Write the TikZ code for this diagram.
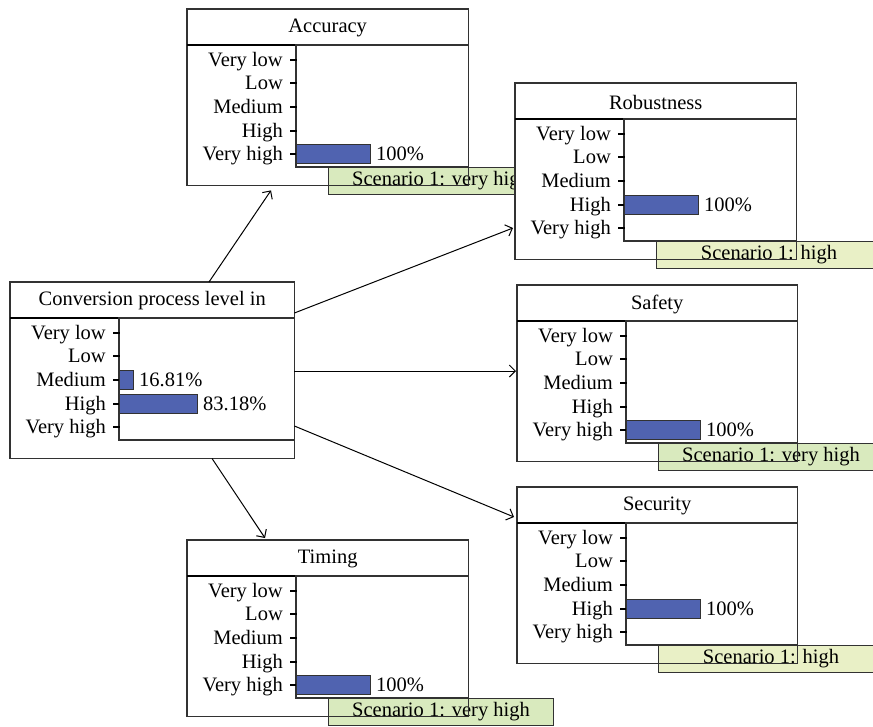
\documentclass[tikz,border=0pt]{standalone}
\usepackage{fontspec}
\setmainfont{Liberation Serif}
\usetikzlibrary{arrows.meta,calc}
\definecolor{barblue}{RGB}{80,99,176}
\definecolor{vhgreen}{RGB}{217,234,190}
\definecolor{hgreen}{RGB}{233,240,198}
\definecolor{boxgray}{RGB}{50,50,50}
\tikzset{
  boxline/.style={draw=boxgray, line width=1.2pt},
  sepline/.style={draw=black, line width=2pt},
  ticks/.style={draw=black, line width=1.6pt},
  bar/.style={draw=boxgray, fill=barblue, line width=1pt},
  txt/.style={inner sep=0pt, font=\fontsize{20.5}{23}\selectfont},
  lab/.style={txt, anchor=base east},
  pct/.style={txt, anchor=base west},
  greenlab/.style={draw=boxgray, line width=1pt, minimum width=225pt, minimum height=27pt,
    inner sep=0pt, anchor=north west, font=\fontsize{20.5}{23}\selectfont},
  arr/.style={draw=black, line width=1pt, -{Straight Barb[length=6pt,width=12pt]}},
}
% #1 name, #2 x, #3 y, #4 width, #5 title, #6 label code
\newcommand\BNbox[6]{%
  \node[anchor=north west, minimum width=#4pt, minimum height=176pt, fill=white, inner sep=0pt] (#1) at (#2,#3) {};
  #6
  \draw[boxline] (#1.north west) rectangle (#1.south east);
  \node[txt] (#1-title) at ($(#1.north)+(0,19)$) {#5};
  \draw[sepline] ($(#1.north west)+(0,36)$) -- ($(#1.north east)+(0,36)$);
  \draw[boxline] ($(#1.north west)+(109,36)$) rectangle ($(#1.north east)+(0,158)$);
  \foreach \t/\r in {Very low/51, Low/74, Medium/98, High/122, Very high/145}{
    \draw[ticks] ($(#1.north west)+(103,\r)$) -- ($(#1.north west)+(109.5,\r)$);
    \node[lab] at ($(#1.north west)+(96,\r+6.5)$) {\t};
  }%
}
% #1 name, #2 text, #3 colour
\newcommand\BNlab[3]{%
  \node[greenlab, fill=#3] (#1-lab) at ($(#1.north west)+(141,158)$) {#2};%
}
% #1 name, #2 row, #3 length, #4 text
\newcommand\BNbar[4]{%
  \draw[bar] ($(#1.north west)+(109,#2-10)$) rectangle ($(#1.north west)+(109+#3,#2+9)$);
  \node[pct] at ($(#1.north west)+(115+#3,#2+6.5)$) {#4};%
}
\begin{document}
\begin{tikzpicture}[x=1pt,y=-1pt]
\useasboundingbox (0,0) rectangle (873,726);
\clip (0,0) rectangle (873,726);

\BNbox{acc}{187}{9}{281}{Accuracy}{\BNlab{acc}{Scenario 1: very high}{vhgreen}}
\BNbar{acc}{145}{74}{100\%}

\BNbox{rob}{515}{83}{281}{Robustness}{\BNlab{rob}{Scenario 1: high}{hgreen}}
\BNbar{rob}{122}{74}{100\%}

\BNbox{saf}{517}{285}{280}{Safety}{\BNlab{saf}{Scenario 1: very high}{vhgreen}}
\BNbar{saf}{145}{74}{100\%}

\BNbox{sec}{517}{487}{280}{Security}{\BNlab{sec}{Scenario 1: high}{hgreen}}
\BNbar{sec}{122}{74}{100\%}

\BNbox{tim}{187}{540}{281}{Timing}{\BNlab{tim}{Scenario 1: very high}{vhgreen}}
\BNbar{tim}{145}{74}{100\%}

\BNbox{conv}{10}{282}{284}{Conversion process level in}{}
\BNbar{conv}{98}{14}{16.81\%}
\BNbar{conv}{122}{78}{83.18\%}

\draw[arr] ($(conv.north west)+(199,0)$) -- ($(acc.south west)+(84,5)$);
\draw[arr] ($(conv.north east)+(0,31)$) -- ($(rob.north west)+(-2,145)$);
\draw[arr] ($(conv.north east)+(0,89)$) -- ($(saf.north west)+(-1,86)$);
\draw[arr] ($(conv.north east)+(0,144)$) -- ($(sec.north west)+(-3,30)$);
\draw[arr] ($(conv.south west)+(202,0)$) -- ($(tim.north west)+(78,-2)$);
\end{tikzpicture}
\end{document}
